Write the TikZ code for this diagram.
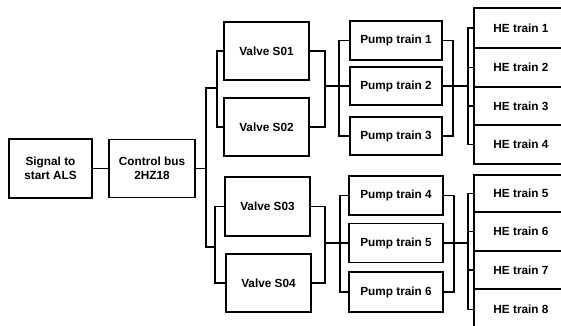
\documentclass[tikz,border=0pt]{standalone}
\usepackage{fontspec}
\setmainfont{Liberation Sans}
\begin{document}
\begin{tikzpicture}[x=1pt,y=-1pt,
  box/.style={draw, line width=1.4pt, inner sep=0pt, align=center,
    font=\bfseries\fontsize{11.8}{14}\selectfont},
  conn/.style={line width=1.4pt}]
\useasboundingbox (0,0) rectangle (561,325);
\clip (0,0) rectangle (561,325);
% left
\node[box, minimum width=83pt, minimum height=59pt] (sig) at (50.5,168.5) {Signal to\\start ALS};
\node[box, minimum width=86pt, minimum height=58pt] (cb) at (152,168.5) {Control bus\\2HZ18};
% valves
\node[box, minimum width=85pt, minimum height=58pt] (v1) at (266.5,51) {Valve S01};
\node[box, minimum width=85pt, minimum height=58pt] (v2) at (266.5,127) {Valve S02};
\node[box, minimum width=85pt, minimum height=59pt] (v3) at (267.5,206.5) {Valve S03};
\node[box, minimum width=85pt, minimum height=58pt] (v4) at (268.5,283) {Valve S04};
% pumps
\node[box, minimum width=92pt, minimum height=39pt] (p1) at (396,40.5) {Pump train 1};
\node[box, minimum width=92pt, minimum height=38pt] (p2) at (396,86) {Pump train 2};
\node[box, minimum width=92pt, minimum height=38pt] (p3) at (396,136) {Pump train 3};
\node[box, minimum width=94pt, minimum height=39pt] (p4) at (396,195.5) {Pump train 4};
\node[box, minimum width=94pt, minimum height=39pt] (p5) at (396,243) {Pump train 5};
\node[box, minimum width=94pt, minimum height=40pt] (p6) at (396,292) {Pump train 6};
% heat exchangers
\node[box, minimum width=94pt, minimum height=40pt] (he1) at (521,28) {HE train 1};
\node[box, minimum width=94pt, minimum height=39pt] (he2) at (521,67.5) {HE train 2};
\node[box, minimum width=94pt, minimum height=38pt] (he3) at (521,106) {HE train 3};
\node[box, minimum width=94pt, minimum height=39pt] (he4) at (521,144.5) {HE train 4};
\node[box, minimum width=94pt, minimum height=37pt] (he5) at (521,193.5) {HE train 5};
\node[box, minimum width=94pt, minimum height=39pt] (he6) at (521,231.5) {HE train 6};
\node[box, minimum width=94pt, minimum height=38pt] (he7) at (521,270) {HE train 7};
\node[box, minimum width=94pt, minimum height=41pt] (he8) at (521,309.5) {HE train 8};
% junction coordinates
\coordinate (ja) at (206,88);
\coordinate (jb) at (206,247);
\coordinate (ba) at (217,88);
\coordinate (bb) at (215,247);
\coordinate (vr1) at (325,86);
\coordinate (vr2) at (325,243);
\coordinate (pb1) at (339,86);
\coordinate (pb2) at (340,243);
\coordinate (pr1) at (453,86);
\coordinate (pr2) at (454,243);
\coordinate (hb1) at (468,86);
\coordinate (hb2) at (468,243);
% connectors
\draw[conn] (sig.east) -- (sig.east -| cb.west);
\draw[conn] (cb.east) -| (ja) -- (ba);
\draw[conn] (cb.east) -| (jb) -- (bb);
\draw[conn] (v1.west) -| (ba) |- (v2.west);
\draw[conn] (v3.west) -| (bb) |- (v4.west);
\draw[conn] (v1.east) -| (vr1) |- (v2.east);
\draw[conn] (v3.east) -| (vr2) |- (v4.east);
\draw[conn] (vr1) -- (p2.west);
\draw[conn] (vr2) -- (p5.west);
\draw[conn] (p1.west) -| (pb1) |- (p3.west);
\draw[conn] (p4.west) -| (pb2) |- (p6.west);
\draw[conn] (p1.east) -| (pr1) |- (p3.east);
\draw[conn] (p4.east) -| (pr2) |- (p6.east);
\draw[conn] (p2.east) -- (hb1);
\draw[conn] (p5.east) -- (hb2);
\draw[conn] (he1.west) -| (hb1) |- (he4.west);
\draw[conn] (he5.west) -| (hb2) |- (he8.west);
\draw[conn] (hb1 |- he2.west) -- (he2.west);
\draw[conn] (hb1 |- he3.west) -- (he3.west);
\draw[conn] (hb2 |- he6.west) -- (he6.west);
\draw[conn] (hb2 |- he7.west) -- (he7.west);
\end{tikzpicture}
\end{document}
